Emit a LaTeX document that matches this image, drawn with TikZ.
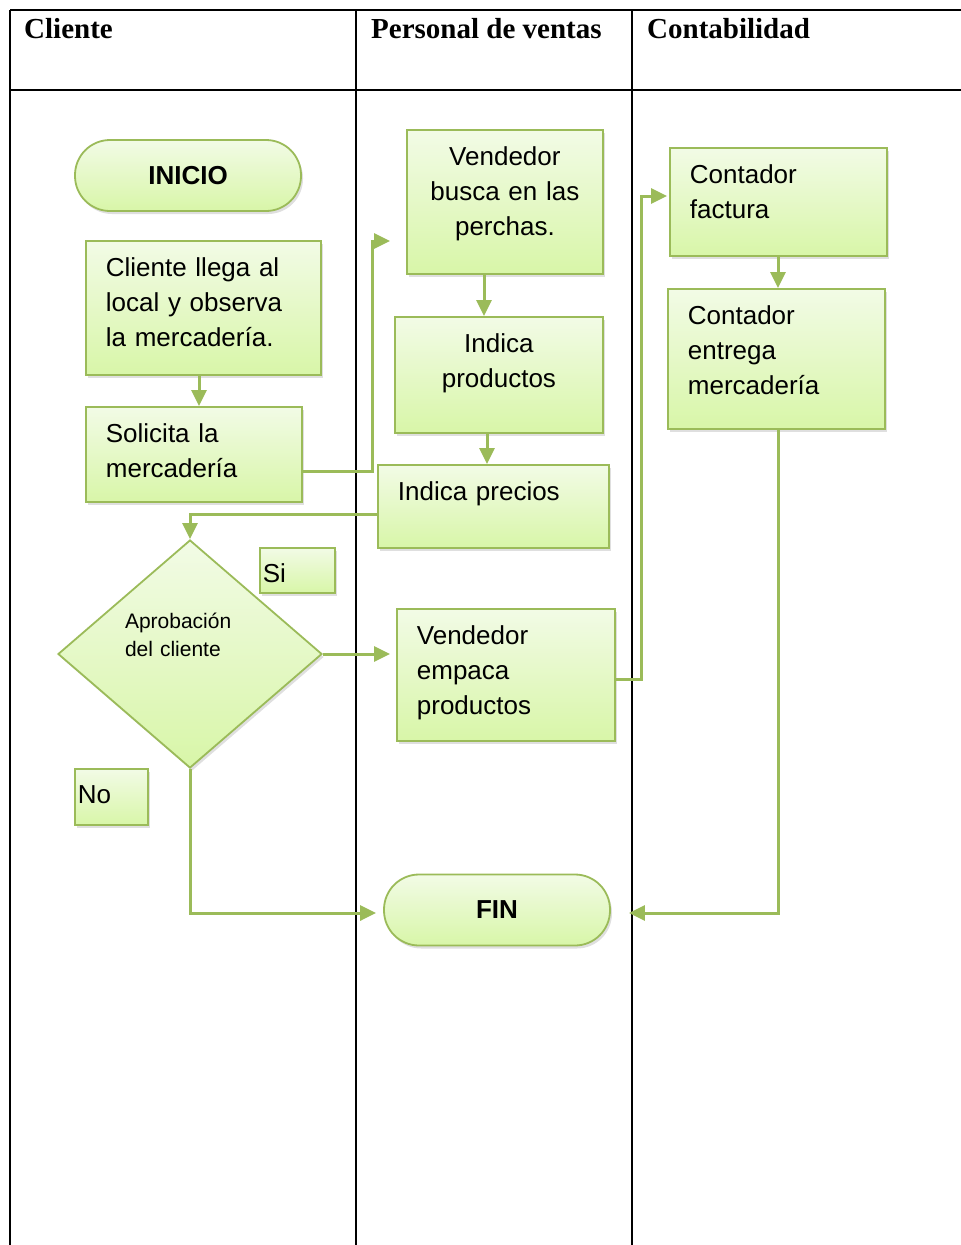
\documentclass[tikz,border=0pt]{standalone}
\usepackage{fontspec}
\setmainfont{Liberation Sans}
\newfontfamily\encabezado{Liberation Serif}
\usetikzlibrary{arrows.meta,shapes.geometric,shadows}
\definecolor{verde}{RGB}{155,187,89}
\definecolor{verdeclaro}{RGB}{242,251,230}
\definecolor{verdefondo}{RGB}{216,246,168}

\begin{document}
\begin{tikzpicture}[x=1pt,y=-1pt,
  tabla/.style={line width=2pt, black},
  relleno/.style={draw=verde, line width=1.8pt, top color=verdeclaro, bottom color=verdefondo,
    drop shadow={shadow xshift=2pt, shadow yshift=-3pt, opacity=.25}},
  caja/.style 2 args={relleno, rectangle, anchor=north west, inner xsep=20pt, inner ysep=10pt,
    text height=26pt, text width=#1, text depth=#2, align=left, font=\fontsize{26}{35}\selectfont},
  etiqueta/.style 2 args={relleno, rectangle, anchor=north west, inner xsep=3pt, inner ysep=0pt,
    text height=35pt, text width=#1, text depth=#2, align=left, font=\fontsize{26}{30}\selectfont},
  terminal/.style={relleno, rectangle, rounded corners=35pt, minimum width=226pt, minimum height=71pt,
    inner sep=0pt, font=\fontsize{26}{30}\selectfont\bfseries},
  decision/.style={relleno, diamond, minimum width=264pt, minimum height=228pt, inner sep=0pt,
    text width=130pt, text height=16pt, text depth=68pt, align=left, font=\fontsize{21}{28}\selectfont},
  flecha/.style={draw=verde, line width=3pt, -{Triangle[length=16pt,width=15pt]}}]
\useasboundingbox (0,0) rectangle (961,1245);
% tabla
\draw[tabla] (10,10) -- (961,10);
\draw[tabla] (10,90) -- (961,90);
\foreach \x in {10,356,632}{\draw[tabla] (\x,10) -- (\x,1245);}
\foreach \x/\texto/\nombre in {24/Cliente/hcliente,371/Personal de ventas/hventas,647/Contabilidad/hconta}
  {\node[anchor=base west, inner sep=0pt, font=\encabezado\fontsize{29}{34}\selectfont\bfseries] (\nombre) at (\x,38) {\texto};}
% cliente
\node[terminal] (inicio) at (188,175.5) {INICIO};
\node[caja={195pt}{88pt}] (llega) at (85,240) {Cliente llega al\\local y observa\\la mercadería.};
\node[caja={176pt}{49pt}] (solicita) at (85,406) {Solicita la\\mercadería};
\node[decision] (aprobacion) at (190,654) {Aprobación\\del cliente};
\node[etiqueta={69pt}{10pt}] (si) at (259,547) {Si};
\node[etiqueta={67pt}{21pt}] (no) at (74,768) {No};
% personal de ventas
\node[caja={156pt}{98pt}, align=center] (busca) at (406,129) {Vendedor\\busca en las\\perchas.};
\node[caja={168pt}{70pt}, align=center] (productos) at (394,316) {Indica\\productos};
\node[caja={191pt}{37pt}] (precios) at (377,464) {Indica precios};
\node[caja={178pt}{86pt}] (empaca) at (396,608) {Vendedor\\empaca\\productos};
\node[terminal] (fin) at (497,910) {FIN};
% contabilidad
\node[caja={177pt}{62pt}] (factura) at (669,147) {Contador\\factura};
\node[caja={177pt}{94pt}] (entrega) at (667,288) {Contador\\entrega\\mercadería};
% conectores
\coordinate (x1) at (199,0);
\coordinate (x2) at (484,0);
\coordinate (x3) at (487,0);
\coordinate (x4) at (778,0);
\coordinate (c1) at (372,471);
\coordinate (c2) at (372,241);
\coordinate (c3) at (190,514);
\coordinate (c4) at (641,679);
\coordinate (c5) at (641,196);
\coordinate (c6) at (778,913);
\coordinate (c7) at (190,913);
\draw[flecha] (llega.south -| x1) -- (solicita.north -| x1);
\draw[flecha] (busca.south -| x2) -- (productos.north -| x2);
\draw[flecha] (productos.south -| x3) -- (precios.north -| x3);
\draw[flecha, shorten >=16pt] (solicita.east |- c1) -- (c1) -- (c2) -- (busca.west |- c2);
\draw[flecha] (precios.west |- c3) -- (c3) -- (aprobacion.north);
\draw[flecha, shorten >=6pt] (aprobacion.east) -- (aprobacion.east -| empaca.west);
\draw[flecha, shorten >=2pt] (empaca.east |- c4) -- (c4) -- (c5) -- (factura.west |- c5);
\draw[flecha] (factura.south -| x4) -- (entrega.north -| x4);
\draw[flecha, shorten >=18pt] (entrega.south -| x4) -- (c6) -- (fin.east |- c6);
\draw[flecha, shorten >=7pt] (aprobacion.south) -- (c7) -- (fin.west |- c7);
\end{tikzpicture}
\end{document}
